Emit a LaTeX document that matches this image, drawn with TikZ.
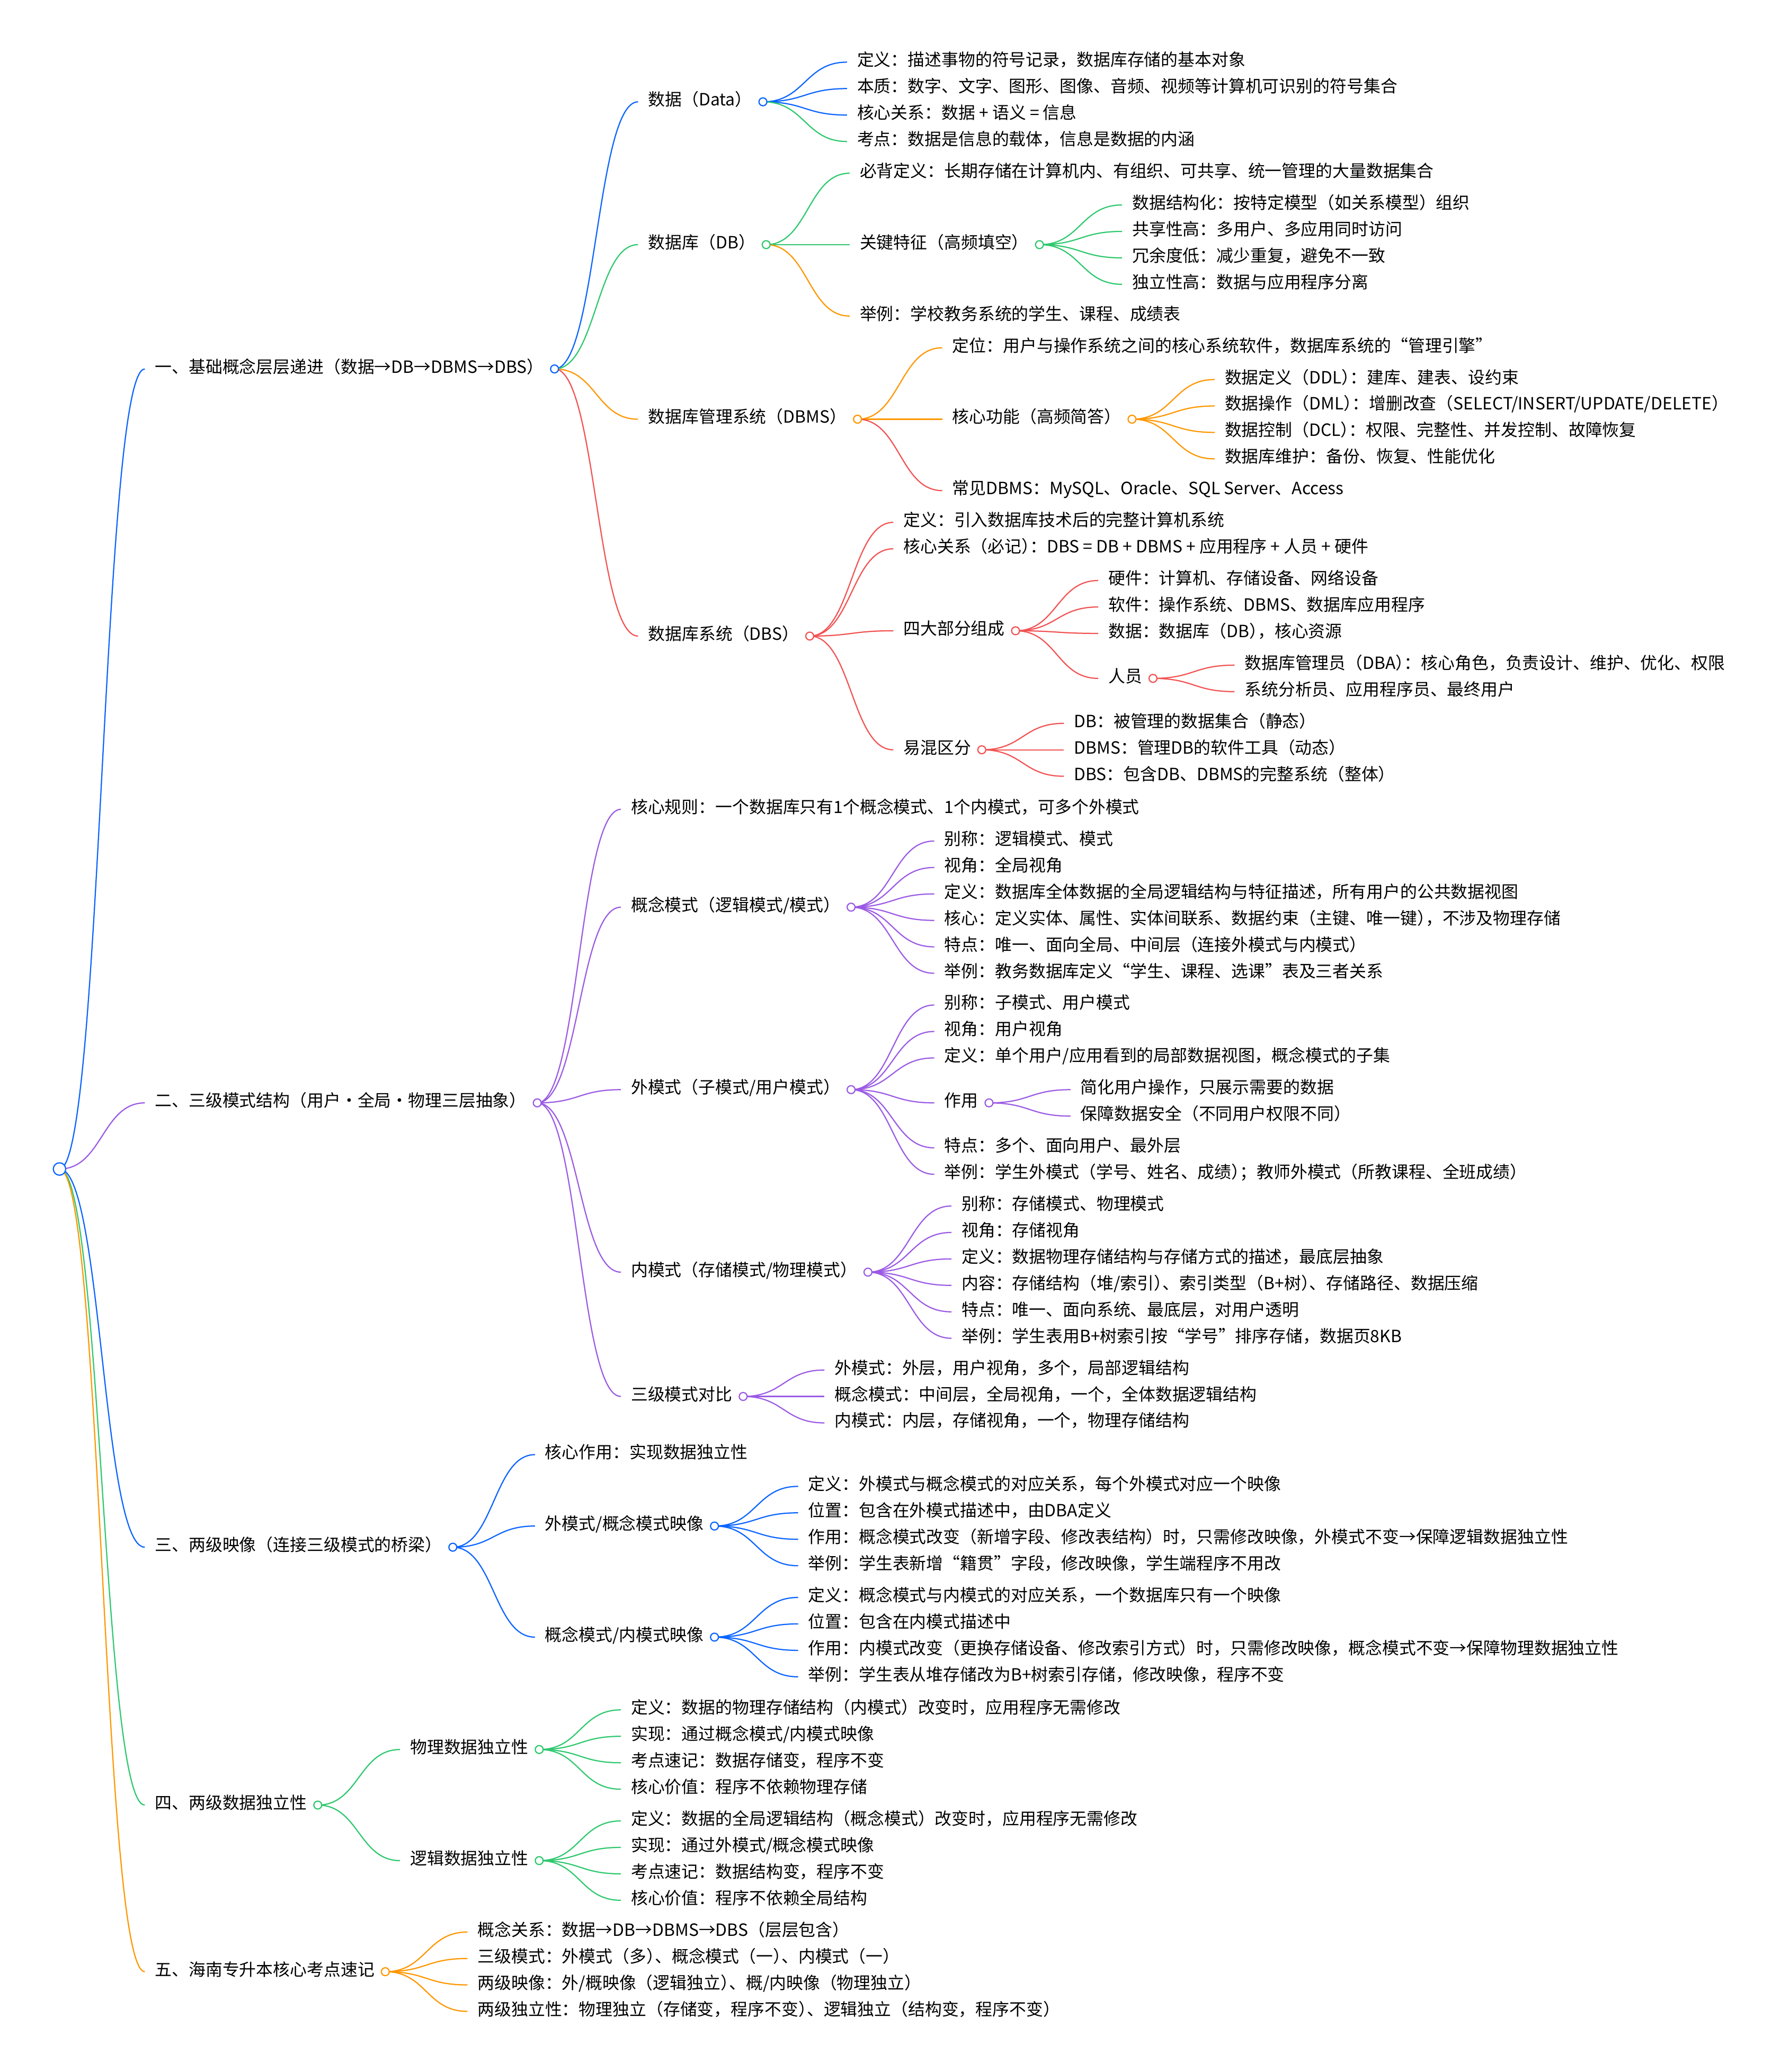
\documentclass[tikz,border=0pt]{standalone}
\usepackage{fontspec}
\setmainfont{Noto Sans CJK SC}
\usetikzlibrary{calc}

\definecolor{cblue}{RGB}{10,100,255}
\definecolor{cgreen}{RGB}{46,200,110}
\definecolor{corange}{RGB}{255,150,0}
\definecolor{cred}{RGB}{242,82,82}
\definecolor{cpurple}{RGB}{155,90,228}

% closing bracket followed by punctuation: drop its empty half
\newcommand{\cjktrim}{\kern-0.5em\relax}

\tikzset{
  txt/.style={anchor=west, xshift=-7.5pt, inner xsep=7.5pt, inner ysep=0pt,
    text height=0.8em, text depth=0.2em},
  knot/.style={circle, draw=#1, fill=white, line width=0.9pt, minimum size=6pt, inner sep=0pt},
  branch/.style={line width=0.9pt, to path={let \p1=(\tikztostart), \p2=(\tikztotarget) in
    .. controls (\x1/2+\x2/2,\y1) and (\x1/2+\x2/2,\y2) .. (\tikztotarget)}},
}

\begin{document}
\begin{tikzpicture}[x=1.0025pt, y=-1.0027pt]
  \useasboundingbox (0pt,0pt) rectangle (1350.2pt,-1571.1pt);
  \begin{scope}[font=\fontsize{12.8}{15}\selectfont]

  % root and the five parts
  \coordinate (root) at (45,884);
  \node[txt] (one)   at (117,279)  {一、基础概念层层递进（数据→DB→DBMS→DBS）};
  \node[txt] (two)   at (117,834)  {二、三级模式结构（用户・全局・物理三层抽象）};
  \node[txt] (three) at (117,1170) {三、两级映像（连接三级模式的桥梁）};
  \node[txt] (four)  at (117,1365) {四、两级数据独立性};
  \node[txt] (five)  at (117,1491) {五、海南专升本核心考点速记};
  \foreach \nd/\col in {one/cblue, two/cpurple, three/cblue, four/cgreen, five/corange}{%
    \coordinate (\nd-c) at ([xshift=0.5pt]\nd.east);
    \draw[branch, \col] (root) to (\nd.west);}

  % part one
  \node[txt] (data) at (490,77)  {数据（Data）};
  \node[txt] (db)   at (490,185) {数据库（DB）};
  \node[txt] (dbms) at (490,317) {数据库管理系统（DBMS）};
  \node[txt] (dbs)  at (490,481) {数据库系统（DBS）};
  \foreach \nd/\col in {data/cblue, db/cgreen, dbms/corange, dbs/cred}{%
    \coordinate (\nd-c) at ([xshift=0.5pt]\nd.east);
    \draw[branch, \col] (one-c) to (\nd.west);}

  \foreach \col/\t [count=\i from 0] in {cblue/定义：描述事物的符号记录，数据库存储的基本对象,
      cblue/本质：数字、文字、图形、图像、音频、视频等计算机可识别的符号集合,
      cblue/核心关系：数据 + 语义 = 信息,
      cgreen/考点：数据是信息的载体，信息是数据的内涵}{%
    \node[txt] (data-\i) at (648,47+20*\i) {\t};
    \draw[branch, \col] (data-c) to (data-\i.west);}

  \node[txt] (db-def)  at (650,131) {必背定义：长期存储在计算机内、有组织、可共享、统一管理的大量数据集合};
  \node[txt] (dbfeat)  at (650,185) {关键特征（高频填空）};
  \node[txt] (db-ex)   at (650,239) {举例：学校教务系统的学生、课程、成绩表};
  \coordinate (dbfeat-c) at ([xshift=0.5pt]dbfeat.east);
  \draw[branch, cgreen]  (db-c) to (db-def.west);
  \draw[branch, cgreen]  (db-c) to (dbfeat.west);
  \draw[branch, corange] (db-c) to (db-ex.west);
  \foreach \t [count=\i from 0] in {数据结构化：按特定模型（如关系模型）组织,
      共享性高：多用户、多应用同时访问,
      冗余度低：减少重复，避免不一致,
      独立性高：数据与应用程序分离}{%
    \node[txt] (dbfeat-\i) at (856,155+20*\i) {\t};
    \draw[branch, cgreen] (dbfeat-c) to (dbfeat-\i.west);}

  \node[txt] (dbms-pos) at (720,263) {定位：用户与操作系统之间的核心系统软件，数据库系统的“管理引擎”};
  \node[txt] (func)     at (720,317) {核心功能（高频简答）};
  \node[txt] (dbms-com) at (720,371) {常见DBMS：MySQL、Oracle、SQL Server、Access};
  \coordinate (func-c) at ([xshift=0.5pt]func.east);
  \draw[branch, corange] (dbms-c) to (dbms-pos.west);
  \draw[branch, corange] (dbms-c) to (func.west);
  \draw[branch, cred]    (dbms-c) to (dbms-com.west);
  \foreach \t [count=\i from 0] in {数据定义（DDL）\cjktrim：建库、建表、设约束,
      数据操作（DML）\cjktrim：增删改查（SELECT/INSERT/UPDATE/DELETE）,
      数据控制（DCL）\cjktrim：权限、完整性、并发控制、故障恢复,
      数据库维护：备份、恢复、性能优化}{%
    \node[txt] (func-\i) at (926,287+20*\i) {\t};
    \draw[branch, corange] (func-c) to (func-\i.west);}

  \node[txt] (dbs-def) at (683,395) {定义：引入数据库技术后的完整计算机系统};
  \node[txt] (dbs-rel) at (683,415) {核心关系（必记）\cjktrim：DBS = DB + DBMS + 应用程序 + 人员 + 硬件};
  \node[txt] (parts)   at (683,477) {四大部分组成};
  \node[txt] (diff)    at (683,567) {易混区分};
  \foreach \nd in {dbs-def, dbs-rel, parts, diff}
    \draw[branch, cred] (dbs-c) to (\nd.west);
  \coordinate (parts-c) at ([xshift=0.5pt]parts.east);
  \coordinate (diff-c) at ([xshift=0.5pt]diff.east);
  \foreach \t [count=\i from 0] in {硬件：计算机、存储设备、网络设备,
      软件：操作系统、DBMS、数据库应用程序,
      数据：数据库（DB）\cjktrim，核心资源}{%
    \node[txt] (parts-\i) at (838,439+20*\i) {\t};
    \draw[branch, cred] (parts-c) to (parts-\i.west);}
  \node[txt] (staff) at (838,513) {人员};
  \coordinate (staff-c) at ([xshift=0.5pt]staff.east);
  \draw[branch, cred] (parts-c) to (staff.west);
  \foreach \t [count=\i from 0] in {数据库管理员（DBA）\cjktrim：核心角色，负责设计、维护、优化、权限,
      系统分析员、应用程序员、最终用户}{%
    \node[txt] (staff-\i) at (941,503+20*\i) {\t};
    \draw[branch, cred] (staff-c) to (staff-\i.west);}
  \foreach \t [count=\i from 0] in {DB：被管理的数据集合（静态）,
      DBMS：管理DB的软件工具（动态）,
      DBS：包含DB、DBMS的完整系统（整体）}{%
    \node[txt] (diff-\i) at (812,547+20*\i) {\t};
    \draw[branch, cred] (diff-c) to (diff-\i.west);}

  % part two
  \node[txt] (rule) at (477,612)  {核心规则：一个数据库只有1个概念模式、1个内模式，可多个外模式};
  \node[txt] (cs)   at (477,686)  {概念模式（逻辑模式/模式）};
  \node[txt] (es)   at (477,824)  {外模式（子模式/用户模式）};
  \node[txt] (is)   at (477,962)  {内模式（存储模式/物理模式）};
  \node[txt] (cmp)  at (477,1056) {三级模式对比};
  \foreach \nd in {rule, cs, es, is, cmp}
    \draw[branch, cpurple] (two-c) to (\nd.west);
  \foreach \nd in {cs, es, is, cmp}
    \coordinate (\nd-c) at ([xshift=0.5pt]\nd.east);

  \foreach \t [count=\i from 0] in {别称：逻辑模式、模式,
      视角：全局视角,
      定义：数据库全体数据的全局逻辑结构与特征描述，所有用户的公共数据视图,
      核心：定义实体、属性、实体间联系、数据约束（主键、唯一键）\cjktrim，不涉及物理存储,
      特点：唯一、面向全局、中间层（连接外模式与内模式）,
      举例：教务数据库定义“学生、课程、选课”表及三者关系}{%
    \node[txt] (cs-\i) at (714,636+20*\i) {\t};
    \draw[branch, cpurple] (cs-c) to (cs-\i.west);}

  \node[txt] (es-0) at (714,760) {别称：子模式、用户模式};
  \node[txt] (es-1) at (714,780) {视角：用户视角};
  \node[txt] (es-2) at (714,800) {定义：单个用户/应用看到的局部数据视图，概念模式的子集};
  \node[txt] (use)  at (714,834) {作用};
  \node[txt] (es-3) at (714,868) {特点：多个、面向用户、最外层};
  \node[txt] (es-4) at (714,888) {举例：学生外模式（学号、姓名、成绩）\cjktrim；教师外模式（所教课程、全班成绩）};
  \foreach \nd in {es-0, es-1, es-2, use, es-3, es-4}
    \draw[branch, cpurple] (es-c) to (\nd.west);
  \coordinate (use-c) at ([xshift=0.5pt]use.east);
  \foreach \t [count=\i from 0] in {简化用户操作，只展示需要的数据,
      保障数据安全（不同用户权限不同）}{%
    \node[txt] (use-\i) at (817,824+20*\i) {\t};
    \draw[branch, cpurple] (use-c) to (use-\i.west);}

  \foreach \t [count=\i from 0] in {别称：存储模式、物理模式,
      视角：存储视角,
      定义：数据物理存储结构与存储方式的描述，最底层抽象,
      内容：存储结构（堆/索引）\cjktrim、索引类型（B+树）\cjktrim、存储路径、数据压缩,
      特点：唯一、面向系统、最底层，对用户透明,
      举例：学生表用B+树索引按“学号”排序存储，数据页8KB}{%
    \node[txt] (is-\i) at (727,912+20*\i) {\t};
    \draw[branch, cpurple] (is-c) to (is-\i.west);}

  \foreach \t [count=\i from 0] in {外模式：外层，用户视角，多个，局部逻辑结构,
      概念模式：中间层，全局视角，一个，全体数据逻辑结构,
      内模式：内层，存储视角，一个，物理存储结构}{%
    \node[txt] (cmp-\i) at (631,1036+20*\i) {\t};
    \draw[branch, cpurple] (cmp-c) to (cmp-\i.west);}

  % part three
  \node[txt] (core) at (412,1100) {核心作用：实现数据独立性};
  \node[txt] (em)   at (412,1154) {外模式/概念模式映像};
  \node[txt] (im)   at (412,1238) {概念模式/内模式映像};
  \foreach \nd in {core, em, im}
    \draw[branch, cblue] (three-c) to (\nd.west);
  \coordinate (em-c) at ([xshift=0.5pt]em.east);
  \coordinate (im-c) at ([xshift=0.5pt]im.east);
  \foreach \t [count=\i from 0] in {定义：外模式与概念模式的对应关系，每个外模式对应一个映像,
      位置：包含在外模式描述中，由DBA定义,
      作用：概念模式改变（新增字段、修改表结构）时，只需修改映像，外模式不变→保障逻辑数据独立性,
      举例：学生表新增“籍贯”字段，修改映像，学生端程序不用改}{%
    \node[txt] (em-\i) at (611,1124+20*\i) {\t};
    \draw[branch, cblue] (em-c) to (em-\i.west);}
  \foreach \t [count=\i from 0] in {定义：概念模式与内模式的对应关系，一个数据库只有一个映像,
      位置：包含在内模式描述中,
      作用：内模式改变（更换存储设备、修改索引方式）时，只需修改映像，概念模式不变→保障物理数据独立性,
      举例：学生表从堆存储改为B+树索引存储，修改映像，程序不变}{%
    \node[txt] (im-\i) at (611,1208+20*\i) {\t};
    \draw[branch, cblue] (im-c) to (im-\i.west);}

  % part four
  \node[txt] (phy) at (310,1323) {物理数据独立性};
  \node[txt] (log) at (310,1407) {逻辑数据独立性};
  \foreach \nd in {phy, log}{%
    \coordinate (\nd-c) at ([xshift=0.5pt]\nd.east);
    \draw[branch, cgreen] (four-c) to (\nd.west);}
  \foreach \t [count=\i from 0] in {定义：数据的物理存储结构（内模式）改变时，应用程序无需修改,
      实现：通过概念模式/内模式映像,
      考点速记：数据存储变，程序不变,
      核心价值：程序不依赖物理存储}{%
    \node[txt] (phy-\i) at (477,1293+20*\i) {\t};
    \draw[branch, cgreen] (phy-c) to (phy-\i.west);}
  \foreach \t [count=\i from 0] in {定义：数据的全局逻辑结构（概念模式）改变时，应用程序无需修改,
      实现：通过外模式/概念模式映像,
      考点速记：数据结构变，程序不变,
      核心价值：程序不依赖全局结构}{%
    \node[txt] (log-\i) at (477,1377+20*\i) {\t};
    \draw[branch, cgreen] (log-c) to (log-\i.west);}

  % part five
  \foreach \t [count=\i from 0] in {概念关系：数据→DB→DBMS→DBS（层层包含）,
      三级模式：外模式（多）\cjktrim、概念模式（一）\cjktrim、内模式（一）,
      两级映像：外/概映像（逻辑独立）\cjktrim、概/内映像（物理独立）,
      两级独立性：物理独立（存储变，程序不变）\cjktrim、逻辑独立（结构变，程序不变）}{%
    \node[txt] (five-\i) at (361,1461+20*\i) {\t};
    \draw[branch, corange] (five-c) to (five-\i.west);}

  % the open circles on top
  \foreach \nd/\col in {one/cblue, data/cblue, db/cgreen, dbfeat/cgreen, dbms/corange,
      func/corange, dbs/cred, parts/cred, staff/cred, diff/cred, two/cpurple, cs/cpurple,
      es/cpurple, use/cpurple, is/cpurple, cmp/cpurple, three/cblue, em/cblue, im/cblue,
      four/cgreen, phy/cgreen, log/cgreen, five/corange}
    \node[knot=\col] at (\nd-c) {};
  \node[knot=cblue, minimum size=9.4pt] at (root) {};
  \end{scope}
\end{tikzpicture}
\end{document}
